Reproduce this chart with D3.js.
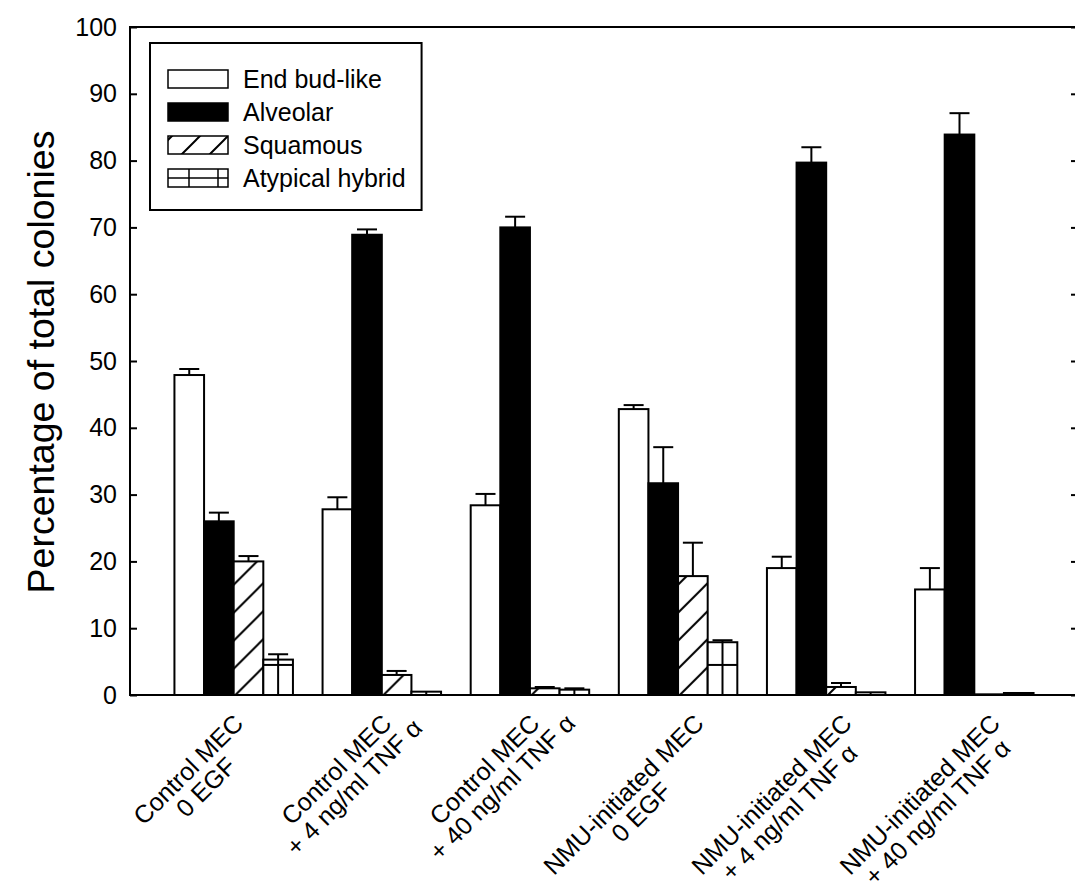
<!DOCTYPE html>
<html><head><meta charset="utf-8">
<script src="https://cdn.jsdelivr.net/npm/d3@7"></script>
<style>html,body{margin:0;padding:0;background:#fff;}svg{display:block;}</style>
</head><body>
<svg id="chart" width="1075" height="894"></svg>
<script>
const groups = ["g1","g2","g3","g4","g5","g6"];
const groupLabels = [
  ["Control MEC","0 EGF"],
  ["Control MEC","+ 4 ng/ml TNF α"],
  ["Control MEC","+ 40 ng/ml TNF α"],
  ["NMU-initiated MEC","0 EGF"],
  ["NMU-initiated MEC","+ 4 ng/ml TNF α"],
  ["NMU-initiated MEC","+ 40 ng/ml TNF α"]
];
const seriesNames = ["End bud-like","Alveolar","Squamous","Atypical hybrid"];
const endBud   = [47.9, 27.8, 28.4, 42.8, 19.0, 15.8];
const endBudErr= [0.9, 1.8, 1.7, 0.6, 1.7, 3.2];
const alveolar = [26.0, 68.9, 70.0, 31.7, 79.7, 83.9];
const alveolarErr = [1.3, 0.8, 1.6, 5.4, 2.3, 3.2];
const squamous = [20.0, 3.0, 1.0, 17.8, 1.2, 0.1];
const squamousErr = [0.8, 0.6, 0.2, 5.0, 0.6, 0.0];
const hybrid   = [5.3, 0.5, 0.8, 7.9, 0.4, 0.3];
const hybridErr= [0.8, 0.0, 0.2, 0.3, 0.0, 0.0];
const yTicks = [0,10,20,30,40,50,60,70,80,90,100];
const yTitle = "Percentage of total colonies";

const values = [endBud, alveolar, squamous, hybrid];
const errs = [endBudErr, alveolarErr, squamousErr, hybridErr];

const svg = d3.select("#chart");
const FONT = "'Liberation Sans', Arial, Helvetica, sans-serif";
const mLeft = 130, mRight = 1078, mTop = 27, mBottom = 695;

const x0 = d3.scaleBand().domain(groups).range([mLeft, mRight]).paddingInner(0.2).paddingOuter(0.3);
const x1 = d3.scaleBand().domain(seriesNames).range([0, x0.bandwidth()]).padding(0);
const y = d3.scaleLinear().domain([0,100]).range([mBottom, mTop]);

// patterns
const defs = svg.append("defs");
const diag = defs.append("pattern").attr("id","diag").attr("patternUnits","userSpaceOnUse")
  .attr("width",28).attr("height",28);
diag.append("rect").attr("width",28).attr("height",28).attr("fill","#fff");
diag.append("path").attr("d","M0,28 L28,0 M-7,7 L7,-7 M21,35 L35,21").attr("stroke","#000").attr("stroke-width",2);

// frame
svg.append("rect").attr("x",mLeft).attr("y",mTop).attr("width",mRight-mLeft).attr("height",mBottom-mTop)
  .attr("fill","none").attr("stroke","#000").attr("stroke-width",2);

// axes
const yAxisL = d3.axisLeft(y).tickValues(yTicks).tickSize(-7).tickPadding(13).tickFormat(d3.format("d"));
const gy = svg.append("g").attr("transform",`translate(${mLeft},0)`).call(yAxisL);
gy.select(".domain").remove();
gy.selectAll("line").attr("stroke","#000").attr("stroke-width",2);
gy.selectAll("text").attr("font-family",FONT).attr("font-size",25).attr("fill","#000");
const yAxisR = d3.axisRight(y).tickValues(yTicks).tickSize(-7).tickFormat("");
const gyr = svg.append("g").attr("transform",`translate(${mRight},0)`).call(yAxisR);
gyr.select(".domain").remove();
gyr.selectAll("line").attr("stroke","#000").attr("stroke-width",2);

// bars
const colors = ["#fff","#000","url(#diag)","#fff"];
groups.forEach((g, gi) => {
  const gg = svg.append("g").attr("transform",`translate(${x0(g)},0)`);
  seriesNames.forEach((s, si) => {
    const v = values[si][gi], e = errs[si][gi];
    const bx = x1(s), bw = x1.bandwidth();
    if (e > 0) {
      const cx = bx + bw/2;
      gg.append("line").attr("x1",cx).attr("x2",cx).attr("y1",y(v)).attr("y2",y(v+e))
        .attr("stroke","#000").attr("stroke-width",2);
      gg.append("line").attr("x1",cx-10).attr("x2",cx+10).attr("y1",y(v+e)).attr("y2",y(v+e))
        .attr("stroke","#000").attr("stroke-width",2);
    }
    gg.append("rect").attr("x",bx).attr("y",y(v)).attr("width",bw).attr("height",y(0)-y(v))
      .attr("fill",colors[si]).attr("stroke","#000").attr("stroke-width",2);
    if (si === 3) {
      gg.append("line").attr("x1",bx+bw/2).attr("x2",bx+bw/2).attr("y1",y(0)).attr("y2",y(v))
        .attr("stroke","#000").attr("stroke-width",2);
      for (let k = 4.5; k < v; k += 4.5) {
        gg.append("line").attr("x1",bx).attr("x2",bx+bw).attr("y1",y(k)).attr("y2",y(k))
          .attr("stroke","#000").attr("stroke-width",2);
      }
    }
  });
});

// x labels: lines centred on each other
groups.forEach((g, gi) => {
  const cx = x0(g) + x0.bandwidth()/2;
  const lg = svg.append("g");
  const texts = groupLabels[gi].map((t, li) => lg.append("text").attr("font-family",FONT)
    .attr("font-size",25).attr("fill","#000").attr("text-anchor","middle")
    .attr("y", li*25).text(t));
  const W1 = texts[0].node().getComputedTextLength();
  texts.forEach(t => t.attr("x", -W1/2));
  const off = -21 + 0.225 * W1;
  lg.attr("transform",`translate(${cx+off},${725}) rotate(-45)`);
});

// y title
svg.append("text").attr("transform",`translate(54,362) rotate(-90)`)
  .attr("text-anchor","middle").attr("font-family",FONT).attr("font-size",37.5).attr("fill","#000")
  .text(yTitle);

// legend
const lgd = svg.append("g");
const legTexts = [];
const legY = d3.scalePoint().domain(seriesNames).range([79,178]);
const legBox = lgd.append("rect").attr("x",150).attr("y",43).attr("height",167)
  .attr("fill","#fff").attr("stroke","#000").attr("stroke-width",2);
seriesNames.forEach((s, si) => {
  const yy = legY(s);
  lgd.append("rect").attr("x",168).attr("y",yy-9).attr("width",60).attr("height",18)
    .attr("fill",colors[si]).attr("stroke","#000").attr("stroke-width",1.5);
  if (si === 3) {
    lgd.append("line").attr("x1",168).attr("x2",228).attr("y1",yy).attr("y2",yy).attr("stroke","#000").attr("stroke-width",1.5);
    [189,218].forEach(xx => lgd.append("line").attr("x1",xx).attr("x2",xx).attr("y1",yy-9).attr("y2",yy+9).attr("stroke","#000").attr("stroke-width",1.5));
  }
  legTexts.push(lgd.append("text").attr("x",243).attr("y",yy).attr("dy","0.35em").attr("font-family",FONT)
    .attr("font-size",25).attr("fill","#000").text(s));
});
const maxW = d3.max(legTexts, t => t.node().getComputedTextLength());
legBox.attr("width", 243 + maxW + 16 - 150);
</script>
</body></html>
